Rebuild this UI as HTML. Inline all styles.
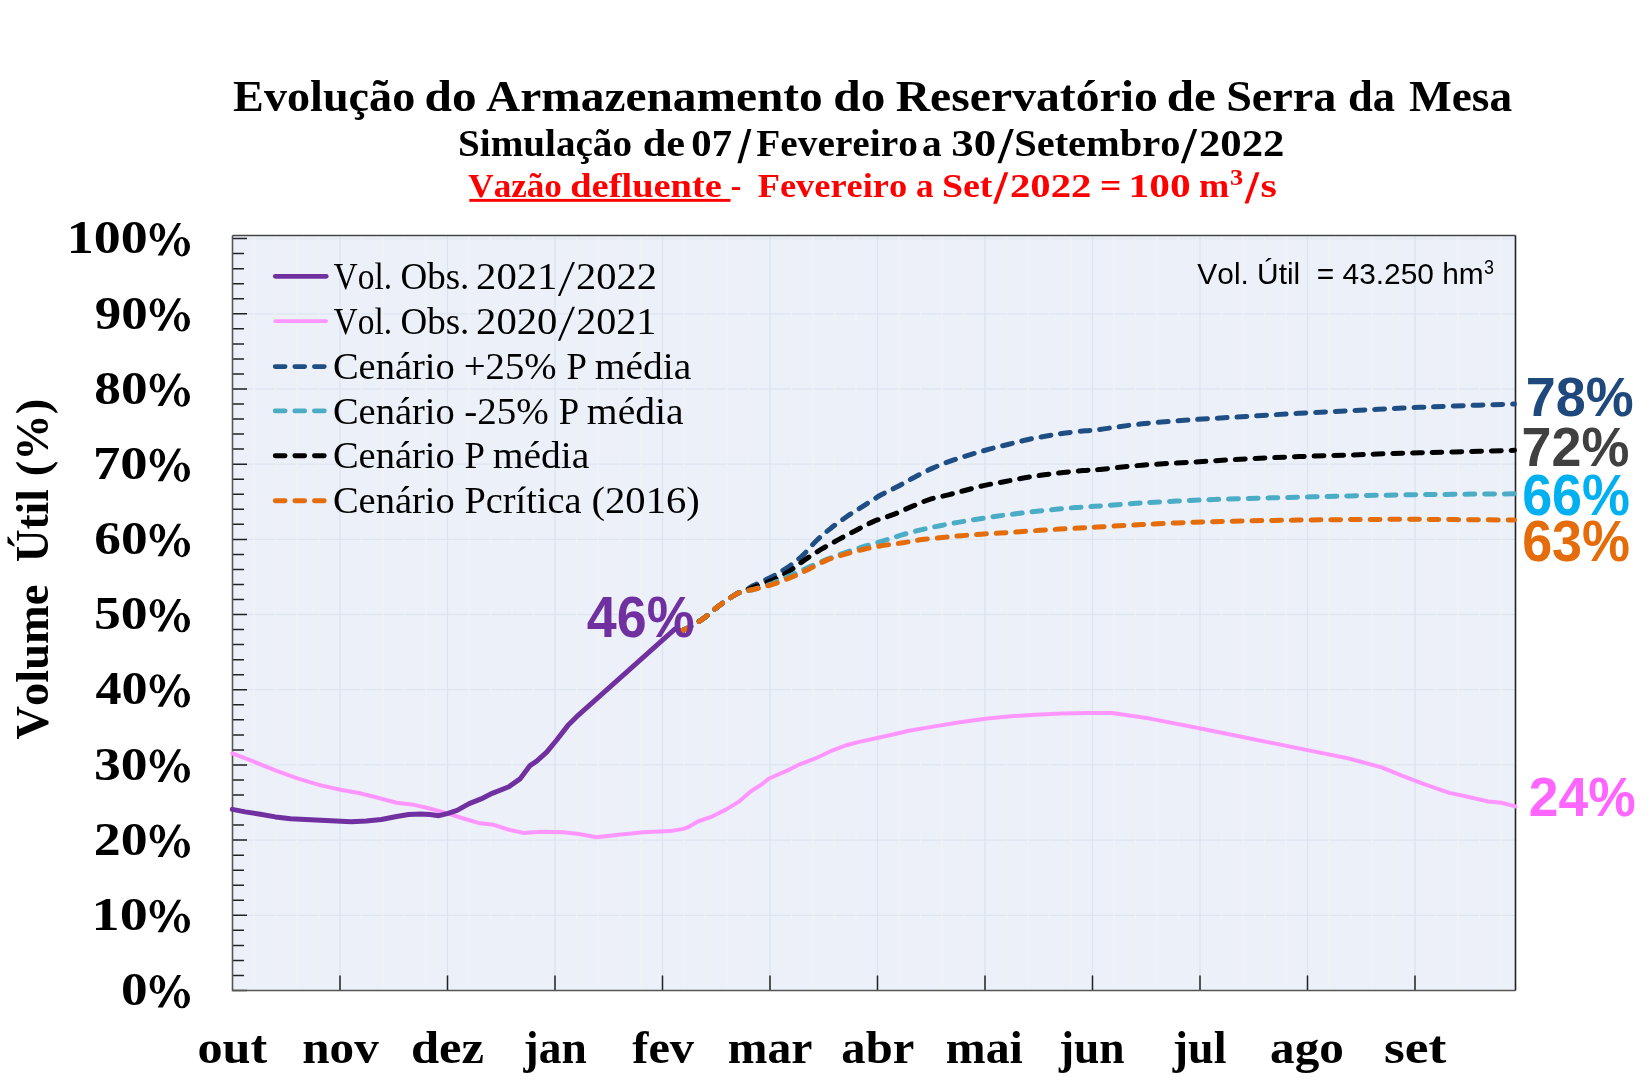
<!DOCTYPE html><html><head><meta charset="utf-8"><style>html,body{margin:0;padding:0;background:#fff;overflow:hidden}svg{display:block;will-change:transform}text{font-kerning:none;font-variant-ligatures:none}</style></head><body>
<svg width="1651" height="1080" viewBox="0 0 1651 1080">
<rect width="1651" height="1080" fill="#fff"/>
<rect x="232.5" y="235.5" width="1283.0" height="755.0" fill="#ecf0f9"/>
<path d="M232.5 915.3H1515.5M232.5 840.1H1515.5M232.5 764.9H1515.5M232.5 689.7H1515.5M232.5 614.5H1515.5M232.5 539.4H1515.5M232.5 464.2H1515.5M232.5 389.0H1515.5M232.5 313.8H1515.5M232.5 238.6H1515.5" stroke="#dde5f1" stroke-width="1.3" fill="none"/>
<path d="M254.0 235.5V990.5M275.5 235.5V990.5M297.0 235.5V990.5M318.5 235.5V990.5M361.5 235.5V990.5M383.0 235.5V990.5M404.5 235.5V990.5M426.0 235.5V990.5M469.0 235.5V990.5M490.5 235.5V990.5M512.0 235.5V990.5M533.5 235.5V990.5M576.5 235.5V990.5M598.0 235.5V990.5M619.5 235.5V990.5M641.0 235.5V990.5M684.0 235.5V990.5M705.5 235.5V990.5M727.0 235.5V990.5M748.5 235.5V990.5M791.5 235.5V990.5M813.0 235.5V990.5M834.5 235.5V990.5M856.0 235.5V990.5M899.0 235.5V990.5M920.5 235.5V990.5M942.0 235.5V990.5M963.5 235.5V990.5M1006.5 235.5V990.5M1028.0 235.5V990.5M1049.5 235.5V990.5M1071.0 235.5V990.5M1114.0 235.5V990.5M1135.5 235.5V990.5M1157.0 235.5V990.5M1178.5 235.5V990.5M1221.5 235.5V990.5M1243.0 235.5V990.5M1264.5 235.5V990.5M1286.0 235.5V990.5M1329.0 235.5V990.5M1350.5 235.5V990.5M1372.0 235.5V990.5M1393.5 235.5V990.5M1436.5 235.5V990.5M1458.0 235.5V990.5M1479.5 235.5V990.5M1501.0 235.5V990.5" stroke="#f0f1f3" stroke-width="1.3" fill="none"/>
<path d="M340.0 235.5V990.5M447.5 235.5V990.5M555.0 235.5V990.5M662.5 235.5V990.5M770.0 235.5V990.5M877.5 235.5V990.5M985.0 235.5V990.5M1092.5 235.5V990.5M1200.0 235.5V990.5M1307.5 235.5V990.5M1415.0 235.5V990.5" stroke="#dbe4f0" stroke-width="1.3" fill="none"/>
<path d="M232.5 990.5H247.0M232.5 975.5H244.0M232.5 960.4H244.0M232.5 945.4H244.0M232.5 930.3H244.0M232.5 915.3H247.0M232.5 900.3H244.0M232.5 885.2H244.0M232.5 870.2H244.0M232.5 855.2H244.0M232.5 840.1H247.0M232.5 825.1H244.0M232.5 810.0H244.0M232.5 795.0H244.0M232.5 780.0H244.0M232.5 764.9H247.0M232.5 749.9H244.0M232.5 734.9H244.0M232.5 719.8H244.0M232.5 704.8H244.0M232.5 689.7H247.0M232.5 674.7H244.0M232.5 659.7H244.0M232.5 644.6H244.0M232.5 629.6H244.0M232.5 614.5H247.0M232.5 599.5H244.0M232.5 584.5H244.0M232.5 569.4H244.0M232.5 554.4H244.0M232.5 539.4H247.0M232.5 524.3H244.0M232.5 509.3H244.0M232.5 494.2H244.0M232.5 479.2H244.0M232.5 464.2H247.0M232.5 449.1H244.0M232.5 434.1H244.0M232.5 419.1H244.0M232.5 404.0H244.0M232.5 389.0H247.0M232.5 373.9H244.0M232.5 358.9H244.0M232.5 343.9H244.0M232.5 328.8H244.0M232.5 313.8H247.0M232.5 298.8H244.0M232.5 283.7H244.0M232.5 268.7H244.0M232.5 253.6H244.0M232.5 238.6H247.0" stroke="#222" stroke-width="1.5" fill="none"/>
<path d="M340.0 990.5V975.5M447.5 990.5V975.5M555.0 990.5V975.5M662.5 990.5V975.5M770.0 990.5V975.5M877.5 990.5V975.5M985.0 990.5V975.5M1092.5 990.5V975.5M1200.0 990.5V975.5M1307.5 990.5V975.5M1415.0 990.5V975.5" stroke="#222" stroke-width="1.5" fill="none"/>
<path d="M232.5 235.5V990.5H1515.5" stroke="#555" stroke-width="1.6" fill="none"/>
<path d="M232.5 235.5H1515.5" stroke="#444" stroke-width="1.6" fill="none"/>
<path d="M1515.5 235.5V990.5" stroke="#222" stroke-width="1.6" fill="none"/>
<polyline points="232.3,753.3 252.7,761.2 275.4,770.3 298.1,778.6 320.9,785.4 340.5,789.7 358.7,793.0 373.9,796.8 396.6,802.8 411.7,804.4 426.8,807.8 445.0,812.7 460.2,817.5 480.0,823.3 492.2,824.4 510.0,830.0 523.3,832.9 541.1,831.8 563.3,832.2 578.9,834.0 596.7,837.3 621.1,834.4 643.3,832.2 670.0,831.1 683.3,828.9 687.6,827.4 697.8,821.5 710.5,817.2 725.8,809.6 738.5,801.9 751.2,791.0 761.4,784.6 769.0,778.5 789.4,769.6 799.6,764.3 814.8,758.7 832.6,750.3 845.4,745.5 858.1,742.1 878.4,737.8 896.2,733.8 908.9,730.7 934.4,726.4 959.8,722.3 985.3,718.7 1010.7,716.2 1036.1,714.7 1061.6,713.4 1087.0,712.9 1112.1,712.9 1149.9,718.6 1199.4,728.3 1246.3,737.7 1306.2,749.9 1347.8,758.2 1381.7,767.4 1402.5,775.9 1423.4,783.8 1449.4,792.9 1467.7,796.8 1488.5,801.5 1501.5,802.8 1515.5,806.4" fill="none" stroke="#ff96ff" stroke-width="4.0" stroke-linejoin="round" stroke-linecap="round"/>
<polyline points="232.3,809.4 245.1,811.9 260.3,814.2 275.4,816.9 290.6,818.7 305.7,819.5 320.9,820.3 336.0,821.0 351.1,821.8 366.3,821.0 381.4,819.5 396.6,816.5 408.7,814.5 420.8,813.9 429.9,814.5 439.0,815.7 448.0,813.4 457.1,810.4 469.2,803.6 481.1,798.9 492.2,793.3 508.9,786.7 520.0,778.9 530.0,765.6 536.7,761.1 546.7,752.2 556.7,740.0 567.8,725.6 576.7,716.7 675.4,628.7 681.0,631.0" fill="none" stroke="#7030a0" stroke-width="5.0" stroke-linejoin="round" stroke-linecap="round"/>
<path d="M681.00 631.00C682.50 630.33 686.28 629.08 690.00 627.00C693.72 624.92 698.50 622.02 703.30 618.50C708.10 614.98 713.38 609.93 718.80 605.90C724.22 601.87 731.43 596.78 735.80 594.30C740.17 591.82 742.22 592.38 745.00 591.00C747.78 589.62 748.25 588.25 752.50 586.00C756.75 583.75 764.75 580.53 770.50 577.50C776.25 574.47 781.67 571.47 787.00 567.80C792.33 564.13 797.48 560.13 802.50 555.50C807.52 550.87 812.32 544.58 817.10 540.00C821.88 535.42 826.12 532.00 831.20 528.00C836.28 524.00 842.13 519.73 847.60 516.00C853.07 512.27 858.55 509.05 864.00 505.60C869.45 502.15 874.68 498.48 880.30 495.30C885.92 492.12 892.00 489.52 897.70 486.50C903.40 483.48 908.67 480.27 914.50 477.20C920.33 474.13 926.63 470.82 932.70 468.10C938.77 465.38 944.73 463.12 950.90 460.90C957.07 458.68 963.45 456.72 969.70 454.80C975.95 452.88 982.05 451.12 988.40 449.40C994.75 447.68 1001.33 446.12 1007.80 444.50C1014.27 442.88 1020.73 441.12 1027.20 439.70C1033.67 438.28 1040.23 437.12 1046.60 436.00C1052.97 434.88 1058.95 433.87 1065.40 433.00C1071.85 432.13 1079.53 431.40 1085.30 430.80C1091.07 430.20 1090.53 430.57 1100.00 429.40C1109.47 428.23 1126.40 425.43 1142.10 423.80C1157.80 422.17 1176.83 420.82 1194.20 419.60C1211.57 418.38 1228.93 417.55 1246.30 416.50C1263.67 415.45 1281.03 414.27 1298.40 413.30C1315.77 412.33 1333.15 411.57 1350.50 410.70C1367.85 409.83 1385.15 408.88 1402.50 408.10C1419.85 407.32 1435.93 406.68 1454.60 406.00C1473.27 405.32 1504.52 404.33 1514.50 404.00" stroke="#1f4e85" stroke-dasharray="9.85 9.85" stroke-dashoffset="-1" stroke-linecap="round" stroke-linejoin="round" stroke-width="5" fill="none"/>
<path d="M681.00 631.00C682.50 630.33 686.28 629.08 690.00 627.00C693.72 624.92 698.50 622.02 703.30 618.50C708.10 614.98 713.38 609.93 718.80 605.90C724.22 601.87 731.43 596.78 735.80 594.30C740.17 591.82 742.22 592.12 745.00 591.00C747.78 589.88 748.08 589.33 752.50 587.60C756.92 585.87 765.42 583.30 771.50 580.60C777.58 577.90 783.40 574.90 789.00 571.40C794.60 567.90 799.70 563.30 805.10 559.60C810.50 555.90 815.77 552.57 821.40 549.20C827.03 545.83 833.08 542.57 838.90 539.40C844.72 536.23 850.48 533.20 856.30 530.20C862.12 527.20 867.80 523.95 873.80 521.40C879.80 518.85 886.12 517.32 892.30 514.90C898.48 512.48 904.77 509.45 910.90 506.90C917.03 504.35 922.83 501.62 929.10 499.60C935.37 497.58 942.25 496.40 948.50 494.80C954.75 493.20 960.35 491.62 966.60 490.00C972.85 488.38 979.53 486.52 986.00 485.10C992.47 483.68 998.93 482.72 1005.40 481.50C1011.87 480.28 1018.33 478.92 1024.80 477.80C1031.27 476.68 1037.75 475.70 1044.20 474.80C1050.65 473.90 1057.05 473.10 1063.50 472.40C1069.95 471.70 1076.82 471.10 1082.90 470.60C1088.98 470.10 1090.13 470.30 1100.00 469.40C1109.87 468.50 1126.40 466.43 1142.10 465.20C1157.80 463.97 1176.83 463.05 1194.20 462.00C1211.57 460.95 1228.93 459.80 1246.30 458.90C1263.67 458.00 1281.03 457.25 1298.40 456.60C1315.77 455.95 1333.15 455.57 1350.50 455.00C1367.85 454.43 1385.15 453.72 1402.50 453.20C1419.85 452.68 1435.93 452.38 1454.60 451.90C1473.27 451.42 1504.52 450.57 1514.50 450.30" stroke="#000" stroke-dasharray="9.85 9.85" stroke-dashoffset="-1" stroke-linecap="round" stroke-linejoin="round" stroke-width="5" fill="none"/>
<path d="M681.00 631.00C682.50 630.33 686.28 629.08 690.00 627.00C693.72 624.92 698.50 622.02 703.30 618.50C708.10 614.98 713.38 609.93 718.80 605.90C724.22 601.87 731.43 596.78 735.80 594.30C740.17 591.82 742.08 591.80 745.00 591.00C747.92 590.20 748.77 590.75 753.30 589.50C757.83 588.25 766.00 585.83 772.20 583.50C778.40 581.17 784.45 578.20 790.50 575.50C796.55 572.80 802.43 569.98 808.50 567.30C814.57 564.62 820.75 561.87 826.90 559.40C833.05 556.93 839.22 554.65 845.40 552.50C851.58 550.35 857.82 548.40 864.00 546.50C870.18 544.60 876.33 542.98 882.50 541.10C888.67 539.22 894.65 537.07 901.00 535.20C907.35 533.33 914.10 531.48 920.60 529.90C927.10 528.32 933.53 527.00 940.00 525.70C946.47 524.40 952.95 523.22 959.40 522.10C965.85 520.98 972.25 520.02 978.70 519.00C985.15 517.98 991.63 516.90 998.10 516.00C1004.57 515.10 1011.03 514.40 1017.50 513.60C1023.97 512.80 1030.43 511.92 1036.90 511.20C1043.37 510.48 1049.83 509.92 1056.30 509.30C1062.77 508.68 1069.25 508.00 1075.70 507.50C1082.15 507.00 1083.93 507.07 1095.00 506.30C1106.07 505.53 1125.57 503.90 1142.10 502.90C1158.63 501.90 1176.83 501.03 1194.20 500.30C1211.57 499.57 1228.93 499.02 1246.30 498.50C1263.67 497.98 1281.03 497.63 1298.40 497.20C1315.77 496.77 1333.15 496.28 1350.50 495.90C1367.85 495.52 1385.15 495.17 1402.50 494.90C1419.85 494.63 1435.93 494.48 1454.60 494.30C1473.27 494.12 1504.52 493.88 1514.50 493.80" stroke="#4bacc6" stroke-dasharray="9.85 9.85" stroke-dashoffset="-1" stroke-linecap="round" stroke-linejoin="round" stroke-width="5" fill="none"/>
<path d="M681.00 631.00C682.50 630.33 686.28 629.08 690.00 627.00C693.72 624.92 698.50 622.02 703.30 618.50C708.10 614.98 713.38 609.93 718.80 605.90C724.22 601.87 731.43 596.78 735.80 594.30C740.17 591.82 742.08 591.80 745.00 591.00C747.92 590.20 748.70 590.60 753.30 589.50C757.90 588.40 766.32 586.42 772.60 584.40C778.88 582.38 785.05 579.90 791.00 577.40C796.95 574.90 802.32 572.28 808.30 569.40C814.28 566.52 820.72 562.65 826.90 560.10C833.08 557.55 839.22 555.92 845.40 554.10C851.58 552.28 857.63 550.65 864.00 549.20C870.37 547.75 877.07 546.48 883.60 545.40C890.13 544.32 896.83 543.67 903.20 542.70C909.57 541.73 915.27 540.48 921.80 539.60C928.33 538.72 935.73 538.05 942.40 537.40C949.07 536.75 955.33 536.23 961.80 535.70C968.27 535.17 974.75 534.65 981.20 534.20C987.65 533.75 994.05 533.42 1000.50 533.00C1006.95 532.58 1013.23 532.15 1019.90 531.70C1026.57 531.25 1033.83 530.73 1040.50 530.30C1047.17 529.87 1053.43 529.47 1059.90 529.10C1066.37 528.73 1073.03 528.45 1079.30 528.10C1085.57 527.75 1087.03 527.58 1097.50 527.00C1107.97 526.42 1125.98 525.40 1142.10 524.60C1158.22 523.80 1176.83 522.82 1194.20 522.20C1211.57 521.58 1228.93 521.25 1246.30 520.90C1263.67 520.55 1281.03 520.32 1298.40 520.10C1315.77 519.88 1333.15 519.73 1350.50 519.60C1367.85 519.47 1385.15 519.30 1402.50 519.30C1419.85 519.30 1435.93 519.47 1454.60 519.60C1473.27 519.73 1504.52 520.02 1514.50 520.10" stroke="#e46c0a" stroke-dasharray="9.85 9.85" stroke-dashoffset="-1" stroke-linecap="round" stroke-linejoin="round" stroke-width="5" fill="none"/>
<text transform="translate(233.11,111.00) scale(1.0221,1)" font-family='"Liberation Serif", serif' font-size="45.20" font-weight="bold" fill="#000" >Evolução</text><text transform="translate(424.60,111.00) scale(1.0909,1)" font-family='"Liberation Serif", serif' font-size="45.20" font-weight="bold" fill="#000" >do</text><text transform="translate(486.04,111.00) scale(1.0481,1)" font-family='"Liberation Serif", serif' font-size="45.20" font-weight="bold" fill="#000" >Armazenamento</text><text transform="translate(833.30,111.00) scale(1.0909,1)" font-family='"Liberation Serif", serif' font-size="45.20" font-weight="bold" fill="#000" >do</text><text transform="translate(895.68,111.00) scale(1.0553,1)" font-family='"Liberation Serif", serif' font-size="45.20" font-weight="bold" fill="#000" >Reservatório</text><text transform="translate(1166.71,111.00) scale(1.0877,1)" font-family='"Liberation Serif", serif' font-size="45.20" font-weight="bold" fill="#000" >de</text><text transform="translate(1226.14,111.00) scale(1.0226,1)" font-family='"Liberation Serif", serif' font-size="45.20" font-weight="bold" fill="#000" >Serra</text><text transform="translate(1347.99,111.00) scale(0.9862,1)" font-family='"Liberation Serif", serif' font-size="45.20" font-weight="bold" fill="#000" >da</text><text transform="translate(1408.93,111.00) scale(1.0024,1)" font-family='"Liberation Serif", serif' font-size="45.20" font-weight="bold" fill="#000" >Mesa</text>
<text transform="translate(458.02,155.50) scale(1.0355,1)" font-family='"Liberation Serif", serif' font-size="37.80" font-weight="bold" fill="#000" >Simulação</text><text transform="translate(642.79,155.50) scale(1.1193,1)" font-family='"Liberation Serif", serif' font-size="37.80" font-weight="bold" fill="#000" >de</text><text transform="translate(691.35,155.50) scale(1.0751,1)" font-family='"Liberation Serif", serif' font-size="37.80" font-weight="bold" fill="#000" >07</text><text transform="translate(756.33,155.50) scale(1.0405,1)" font-family='"Liberation Serif", serif' font-size="37.80" font-weight="bold" fill="#000" >Fevereiro</text><text transform="translate(921.93,155.50) scale(1.0403,1)" font-family='"Liberation Serif", serif' font-size="37.80" font-weight="bold" fill="#000" >a</text><text transform="translate(951.21,155.50) scale(1.1878,1)" font-family='"Liberation Serif", serif' font-size="37.80" font-weight="bold" fill="#000" >30</text><text transform="translate(1014.15,155.50) scale(1.0711,1)" font-family='"Liberation Serif", serif' font-size="37.80" font-weight="bold" fill="#000" >Setembro</text><text transform="translate(1199.01,155.50) scale(1.1300,1)" font-family='"Liberation Serif", serif' font-size="37.80" font-weight="bold" fill="#000" >2022</text>
<polygon points="737.40,163.30 741.30,163.30 751.40,129.00 747.50,129.00" fill="#000"/>
<polygon points="997.40,163.30 1001.30,163.30 1013.80,129.00 1009.90,129.00" fill="#000"/>
<polygon points="1180.80,163.30 1184.70,163.30 1197.20,129.00 1193.30,129.00" fill="#000"/>
<text transform="translate(468.31,196.70) scale(1.0121,1)" font-family='"Liberation Serif", serif' font-size="34.70" font-weight="bold" fill="#ff0000" >Vazão</text><text transform="translate(570.24,196.70) scale(1.1074,1)" font-family='"Liberation Serif", serif' font-size="34.70" font-weight="bold" fill="#ff0000" >defluente</text><text transform="translate(730.84,196.70) scale(0.9097,1)" font-family='"Liberation Serif", serif' font-size="34.70" font-weight="bold" fill="#ff0000" >-</text><text transform="translate(757.78,196.70) scale(1.0481,1)" font-family='"Liberation Serif", serif' font-size="34.70" font-weight="bold" fill="#ff0000" >Fevereiro</text><text transform="translate(915.97,196.70) scale(1.0123,1)" font-family='"Liberation Serif", serif' font-size="34.70" font-weight="bold" fill="#ff0000" >a</text><text transform="translate(941.88,196.70) scale(1.0936,1)" font-family='"Liberation Serif", serif' font-size="34.70" font-weight="bold" fill="#ff0000" >Set</text><text transform="translate(1009.99,196.70) scale(1.1738,1)" font-family='"Liberation Serif", serif' font-size="34.70" font-weight="bold" fill="#ff0000" >2022</text><text transform="translate(1100.04,196.70) scale(1.0787,1)" font-family='"Liberation Serif", serif' font-size="34.70" font-weight="bold" fill="#ff0000" >=</text><text transform="translate(1128.58,196.70) scale(1.1950,1)" font-family='"Liberation Serif", serif' font-size="34.70" font-weight="bold" fill="#ff0000" >100</text><text transform="translate(1198.93,196.70) scale(1.0445,1)" font-family='"Liberation Serif", serif' font-size="34.70" font-weight="bold" fill="#ff0000" >m</text><text transform="translate(1260.42,196.70) scale(1.2149,1)" font-family='"Liberation Serif", serif' font-size="34.70" font-weight="bold" fill="#ff0000" >s</text>
<text transform="translate(1229.91,185.40) scale(1.1625,1)" font-family='"Liberation Serif", serif' font-size="22.70" font-weight="bold" fill="#ff0000" >3</text>
<polygon points="993.10,203.80 997.00,203.80 1008.30,172.30 1004.40,172.30" fill="#ff0000"/>
<polygon points="1244.50,203.60 1248.40,203.60 1259.50,172.30 1255.60,172.30" fill="#ff0000"/>
<rect x="469.3" y="198.9" width="261.2" height="2.9" fill="#ff0000"/>
<text transform="translate(120.97,1005.25) scale(1.1542,1)" font-family='"Liberation Serif", serif' font-size="46.20" font-weight="bold" fill="#000" >0</text>
<path d="M149.60 984.45a7.80 9.55 0 1 0 15.60 0a7.80 9.55 0 1 0 -15.60 0ZM154.30 984.50a2.95 7.70 0 1 0 5.90 0a2.95 7.70 0 1 0 -5.90 0ZM173.90 998.55a8.05 9.75 0 1 0 16.10 0a8.05 9.75 0 1 0 -16.10 0ZM178.50 998.65a3.15 7.95 0 1 0 6.30 0a3.15 7.95 0 1 0 -6.30 0ZM157.60 1007.50L162.80 1007.50L181.10 974.90L177.20 974.90Z" fill="#000" fill-rule="evenodd"/>
<text transform="translate(91.60,930.06) scale(1.2150,1)" font-family='"Liberation Serif", serif' font-size="46.20" font-weight="bold" fill="#000" >10</text>
<path d="M149.60 909.26a7.80 9.55 0 1 0 15.60 0a7.80 9.55 0 1 0 -15.60 0ZM154.30 909.31a2.95 7.70 0 1 0 5.90 0a2.95 7.70 0 1 0 -5.90 0ZM173.90 923.36a8.05 9.75 0 1 0 16.10 0a8.05 9.75 0 1 0 -16.10 0ZM178.50 923.46a3.15 7.95 0 1 0 6.30 0a3.15 7.95 0 1 0 -6.30 0ZM157.60 932.31L162.80 932.31L181.10 899.71L177.20 899.71Z" fill="#000" fill-rule="evenodd"/>
<text transform="translate(93.84,854.87) scale(1.1647,1)" font-family='"Liberation Serif", serif' font-size="46.20" font-weight="bold" fill="#000" >20</text>
<path d="M149.60 834.07a7.80 9.55 0 1 0 15.60 0a7.80 9.55 0 1 0 -15.60 0ZM154.30 834.12a2.95 7.70 0 1 0 5.90 0a2.95 7.70 0 1 0 -5.90 0ZM173.90 848.17a8.05 9.75 0 1 0 16.10 0a8.05 9.75 0 1 0 -16.10 0ZM178.50 848.27a3.15 7.95 0 1 0 6.30 0a3.15 7.95 0 1 0 -6.30 0ZM157.60 857.12L162.80 857.12L181.10 824.52L177.20 824.52Z" fill="#000" fill-rule="evenodd"/>
<text transform="translate(94.09,779.68) scale(1.1592,1)" font-family='"Liberation Serif", serif' font-size="46.20" font-weight="bold" fill="#000" >30</text>
<path d="M149.60 758.88a7.80 9.55 0 1 0 15.60 0a7.80 9.55 0 1 0 -15.60 0ZM154.30 758.93a2.95 7.70 0 1 0 5.90 0a2.95 7.70 0 1 0 -5.90 0ZM173.90 772.98a8.05 9.75 0 1 0 16.10 0a8.05 9.75 0 1 0 -16.10 0ZM178.50 773.08a3.15 7.95 0 1 0 6.30 0a3.15 7.95 0 1 0 -6.30 0ZM157.60 781.93L162.80 781.93L181.10 749.33L177.20 749.33Z" fill="#000" fill-rule="evenodd"/>
<text transform="translate(95.39,704.49) scale(1.1299,1)" font-family='"Liberation Serif", serif' font-size="46.20" font-weight="bold" fill="#000" >40</text>
<path d="M149.60 683.69a7.80 9.55 0 1 0 15.60 0a7.80 9.55 0 1 0 -15.60 0ZM154.30 683.74a2.95 7.70 0 1 0 5.90 0a2.95 7.70 0 1 0 -5.90 0ZM173.90 697.79a8.05 9.75 0 1 0 16.10 0a8.05 9.75 0 1 0 -16.10 0ZM178.50 697.89a3.15 7.95 0 1 0 6.30 0a3.15 7.95 0 1 0 -6.30 0ZM157.60 706.74L162.80 706.74L181.10 674.14L177.20 674.14Z" fill="#000" fill-rule="evenodd"/>
<text transform="translate(93.95,629.30) scale(1.1622,1)" font-family='"Liberation Serif", serif' font-size="46.20" font-weight="bold" fill="#000" >50</text>
<path d="M149.60 608.50a7.80 9.55 0 1 0 15.60 0a7.80 9.55 0 1 0 -15.60 0ZM154.30 608.55a2.95 7.70 0 1 0 5.90 0a2.95 7.70 0 1 0 -5.90 0ZM173.90 622.60a8.05 9.75 0 1 0 16.10 0a8.05 9.75 0 1 0 -16.10 0ZM178.50 622.70a3.15 7.95 0 1 0 6.30 0a3.15 7.95 0 1 0 -6.30 0ZM157.60 631.55L162.80 631.55L181.10 598.95L177.20 598.95Z" fill="#000" fill-rule="evenodd"/>
<text transform="translate(94.28,554.11) scale(1.1549,1)" font-family='"Liberation Serif", serif' font-size="46.20" font-weight="bold" fill="#000" >60</text>
<path d="M149.60 533.31a7.80 9.55 0 1 0 15.60 0a7.80 9.55 0 1 0 -15.60 0ZM154.30 533.36a2.95 7.70 0 1 0 5.90 0a2.95 7.70 0 1 0 -5.90 0ZM173.90 547.41a8.05 9.75 0 1 0 16.10 0a8.05 9.75 0 1 0 -16.10 0ZM178.50 547.51a3.15 7.95 0 1 0 6.30 0a3.15 7.95 0 1 0 -6.30 0ZM157.60 556.36L162.80 556.36L181.10 523.76L177.20 523.76Z" fill="#000" fill-rule="evenodd"/>
<text transform="translate(92.97,478.92) scale(1.1842,1)" font-family='"Liberation Serif", serif' font-size="46.20" font-weight="bold" fill="#000" >70</text>
<path d="M149.60 458.12a7.80 9.55 0 1 0 15.60 0a7.80 9.55 0 1 0 -15.60 0ZM154.30 458.17a2.95 7.70 0 1 0 5.90 0a2.95 7.70 0 1 0 -5.90 0ZM173.90 472.22a8.05 9.75 0 1 0 16.10 0a8.05 9.75 0 1 0 -16.10 0ZM178.50 472.32a3.15 7.95 0 1 0 6.30 0a3.15 7.95 0 1 0 -6.30 0ZM157.60 481.17L162.80 481.17L181.10 448.57L177.20 448.57Z" fill="#000" fill-rule="evenodd"/>
<text transform="translate(94.33,403.73) scale(1.1537,1)" font-family='"Liberation Serif", serif' font-size="46.20" font-weight="bold" fill="#000" >80</text>
<path d="M149.60 382.93a7.80 9.55 0 1 0 15.60 0a7.80 9.55 0 1 0 -15.60 0ZM154.30 382.98a2.95 7.70 0 1 0 5.90 0a2.95 7.70 0 1 0 -5.90 0ZM173.90 397.03a8.05 9.75 0 1 0 16.10 0a8.05 9.75 0 1 0 -16.10 0ZM178.50 397.13a3.15 7.95 0 1 0 6.30 0a3.15 7.95 0 1 0 -6.30 0ZM157.60 405.98L162.80 405.98L181.10 373.38L177.20 373.38Z" fill="#000" fill-rule="evenodd"/>
<text transform="translate(94.65,328.54) scale(1.1464,1)" font-family='"Liberation Serif", serif' font-size="46.20" font-weight="bold" fill="#000" >90</text>
<path d="M149.60 307.74a7.80 9.55 0 1 0 15.60 0a7.80 9.55 0 1 0 -15.60 0ZM154.30 307.79a2.95 7.70 0 1 0 5.90 0a2.95 7.70 0 1 0 -5.90 0ZM173.90 321.84a8.05 9.75 0 1 0 16.10 0a8.05 9.75 0 1 0 -16.10 0ZM178.50 321.94a3.15 7.95 0 1 0 6.30 0a3.15 7.95 0 1 0 -6.30 0ZM157.60 330.79L162.80 330.79L181.10 298.19L177.20 298.19Z" fill="#000" fill-rule="evenodd"/>
<text transform="translate(66.78,253.35) scale(1.1670,1)" font-family='"Liberation Serif", serif' font-size="46.20" font-weight="bold" fill="#000" >100</text>
<path d="M149.60 232.55a7.80 9.55 0 1 0 15.60 0a7.80 9.55 0 1 0 -15.60 0ZM154.30 232.60a2.95 7.70 0 1 0 5.90 0a2.95 7.70 0 1 0 -5.90 0ZM173.90 246.65a8.05 9.75 0 1 0 16.10 0a8.05 9.75 0 1 0 -16.10 0ZM178.50 246.75a3.15 7.95 0 1 0 6.30 0a3.15 7.95 0 1 0 -6.30 0ZM157.60 255.60L162.80 255.60L181.10 223.00L177.20 223.00Z" fill="#000" fill-rule="evenodd"/>
<g transform="translate(47.5,738.9) rotate(-90)"><text transform="translate(-0.52,0.00) scale(0.9883,1)" font-family='"Liberation Serif", serif' font-size="47.00" font-weight="bold" fill="#000" >Volume</text><text transform="translate(176.57,0.00) scale(0.9656,1)" font-family='"Liberation Serif", serif' font-size="47.00" font-weight="bold" fill="#000" >Útil</text><text transform="translate(262.76,0.00) scale(0.9882,1)" font-family='"Liberation Serif", serif' font-size="47.00" font-weight="bold" fill="#000" >(%)</text></g>
<text transform="translate(197.49,1062.50) scale(1.0913,1)" font-family='"Liberation Serif", serif' font-size="46.00" font-weight="bold" fill="#000" >out</text><text transform="translate(302.28,1062.50) scale(1.0676,1)" font-family='"Liberation Serif", serif' font-size="46.00" font-weight="bold" fill="#000" >nov</text><text transform="translate(410.95,1062.50) scale(1.1016,1)" font-family='"Liberation Serif", serif' font-size="46.00" font-weight="bold" fill="#000" >dez</text><text transform="translate(523.58,1062.50) scale(0.9876,1)" font-family='"Liberation Serif", serif' font-size="46.00" font-weight="bold" fill="#000" >jan</text><text transform="translate(632.25,1062.50) scale(1.0531,1)" font-family='"Liberation Serif", serif' font-size="46.00" font-weight="bold" fill="#000" >fev</text><text transform="translate(727.82,1062.50) scale(1.0351,1)" font-family='"Liberation Serif", serif' font-size="46.00" font-weight="bold" fill="#000" >mar</text><text transform="translate(841.33,1062.50) scale(1.0567,1)" font-family='"Liberation Serif", serif' font-size="46.00" font-weight="bold" fill="#000" >abr</text><text transform="translate(945.81,1062.50) scale(1.0403,1)" font-family='"Liberation Serif", serif' font-size="46.00" font-weight="bold" fill="#000" >mai</text><text transform="translate(1058.88,1062.50) scale(0.9884,1)" font-family='"Liberation Serif", serif' font-size="46.00" font-weight="bold" fill="#000" >jun</text><text transform="translate(1172.78,1062.50) scale(1.0004,1)" font-family='"Liberation Serif", serif' font-size="46.00" font-weight="bold" fill="#000" >jul</text><text transform="translate(1270.12,1062.50) scale(1.0689,1)" font-family='"Liberation Serif", serif' font-size="46.00" font-weight="bold" fill="#000" >ago</text><text transform="translate(1383.88,1062.50) scale(1.1644,1)" font-family='"Liberation Serif", serif' font-size="46.00" font-weight="bold" fill="#000" >set</text>
<path d="M275.3 276.3H326.2" stroke="#7030a0" stroke-width="4.8" stroke-linecap="round" fill="none"/>
<text transform="translate(333.62,288.90) scale(0.8833,1)" font-family='"Liberation Serif", serif' font-size="37.90" font-weight="normal" fill="#000" >Vol.</text><text transform="translate(400.48,288.90) scale(0.9761,1)" font-family='"Liberation Serif", serif' font-size="37.90" font-weight="normal" fill="#000" >Obs.</text><text transform="translate(476.12,288.90) scale(1.0716,1)" font-family='"Liberation Serif", serif' font-size="37.90" font-weight="normal" fill="#000" >2021</text><text transform="translate(576.12,288.90) scale(1.0674,1)" font-family='"Liberation Serif", serif' font-size="37.90" font-weight="normal" fill="#000" >2022</text>
<polygon points="557.90,295.90 560.30,295.90 574.90,262.00 572.50,262.00" fill="#000"/>
<path d="M275.3 321.1H326.2" stroke="#ff96ff" stroke-width="3.9" stroke-linecap="round" fill="none"/>
<text transform="translate(333.62,333.70) scale(0.8833,1)" font-family='"Liberation Serif", serif' font-size="37.90" font-weight="normal" fill="#000" >Vol.</text><text transform="translate(400.48,333.70) scale(0.9761,1)" font-family='"Liberation Serif", serif' font-size="37.90" font-weight="normal" fill="#000" >Obs.</text><text transform="translate(476.11,333.70) scale(1.0730,1)" font-family='"Liberation Serif", serif' font-size="37.90" font-weight="normal" fill="#000" >2020</text><text transform="translate(576.14,333.70) scale(1.0562,1)" font-family='"Liberation Serif", serif' font-size="37.90" font-weight="normal" fill="#000" >2021</text>
<polygon points="557.90,340.70 560.30,340.70 574.90,306.80 572.50,306.80" fill="#000"/>
<path d="M275.25 366.6H324.3" stroke="#1f4e85" stroke-width="4.9" stroke-linecap="round" stroke-dasharray="9.8 9.8" fill="none"/>
<text transform="translate(332.92,379.10) scale(1.0156,1)" font-family='"Liberation Serif", serif' font-size="37.90" font-weight="normal" fill="#000" >Cenário</text><text transform="translate(463.67,379.10) scale(1.0221,1)" font-family='"Liberation Serif", serif' font-size="37.90" font-weight="normal" fill="#000" >+25%</text><text transform="translate(566.54,379.10) scale(0.9692,1)" font-family='"Liberation Serif", serif' font-size="37.90" font-weight="normal" fill="#000" >P</text><text transform="translate(594.77,379.10) scale(1.0428,1)" font-family='"Liberation Serif", serif' font-size="37.90" font-weight="normal" fill="#000" >média</text>
<path d="M275.25 410.9H324.3" stroke="#4bacc6" stroke-width="4.9" stroke-linecap="round" stroke-dasharray="9.8 9.8" fill="none"/>
<text transform="translate(332.92,423.50) scale(1.0156,1)" font-family='"Liberation Serif", serif' font-size="37.90" font-weight="normal" fill="#000" >Cenário</text><text transform="translate(464.15,423.50) scale(1.0304,1)" font-family='"Liberation Serif", serif' font-size="37.90" font-weight="normal" fill="#000" >-25%</text><text transform="translate(558.64,423.50) scale(0.9692,1)" font-family='"Liberation Serif", serif' font-size="37.90" font-weight="normal" fill="#000" >P</text><text transform="translate(586.87,423.50) scale(1.0439,1)" font-family='"Liberation Serif", serif' font-size="37.90" font-weight="normal" fill="#000" >média</text>
<path d="M275.25 455.8H324.3" stroke="#000" stroke-width="4.9" stroke-linecap="round" stroke-dasharray="9.8 9.8" fill="none"/>
<text transform="translate(332.92,468.30) scale(1.0156,1)" font-family='"Liberation Serif", serif' font-size="37.90" font-weight="normal" fill="#000" >Cenário</text><text transform="translate(464.54,468.30) scale(0.9692,1)" font-family='"Liberation Serif", serif' font-size="37.90" font-weight="normal" fill="#000" >P</text><text transform="translate(492.77,468.30) scale(1.0439,1)" font-family='"Liberation Serif", serif' font-size="37.90" font-weight="normal" fill="#000" >média</text>
<path d="M275.25 500.7H324.3" stroke="#e46c0a" stroke-width="4.9" stroke-linecap="round" stroke-dasharray="9.8 9.8" fill="none"/>
<text transform="translate(332.92,513.20) scale(1.0156,1)" font-family='"Liberation Serif", serif' font-size="37.90" font-weight="normal" fill="#000" >Cenário</text><text transform="translate(464.50,513.20) scale(1.0110,1)" font-family='"Liberation Serif", serif' font-size="37.90" font-weight="normal" fill="#000" >Pcrítica</text><text transform="translate(591.52,513.20) scale(1.0715,1)" font-family='"Liberation Serif", serif' font-size="37.90" font-weight="normal" fill="#000" >(2016)</text>
<text transform="translate(1197.37,283.60) scale(0.9990,1)" font-family='"Liberation Sans", sans-serif' font-size="29.90" font-weight="normal" fill="#000" xml:space="preserve">Vol. Útil  = 43.250 hm</text>
<text transform="translate(1484.02,273.71) scale(0.9198,1)" font-family='"Liberation Sans", sans-serif' font-size="19.49" font-weight="normal" fill="#000" >3</text>
<text transform="translate(1525.78,415.75) scale(0.9585,1)" font-family='"Liberation Sans", sans-serif' font-size="56.21" font-weight="bold" fill="#1f497d" >78%</text>
<text transform="translate(1521.58,465.86) scale(0.9606,1)" font-family='"Liberation Sans", sans-serif' font-size="56.09" font-weight="bold" fill="#404040" >72%</text>
<text transform="translate(1522.13,515.44) scale(0.9471,1)" font-family='"Liberation Sans", sans-serif' font-size="56.92" font-weight="bold" fill="#00b0f0" >66%</text>
<text transform="translate(1522.13,560.66) scale(0.9467,1)" font-family='"Liberation Sans", sans-serif' font-size="56.94" font-weight="bold" fill="#e46c0a" >63%</text>
<text transform="translate(1528.85,815.97) scale(0.9592,1)" font-family='"Liberation Sans", sans-serif' font-size="55.66" font-weight="bold" fill="#ff66ff" >24%</text>
<text transform="translate(586.79,636.85) scale(0.9480,1)" font-family='"Liberation Sans", sans-serif' font-size="56.78" font-weight="bold" fill="#7030a0" >46%</text>
</svg></body></html>
